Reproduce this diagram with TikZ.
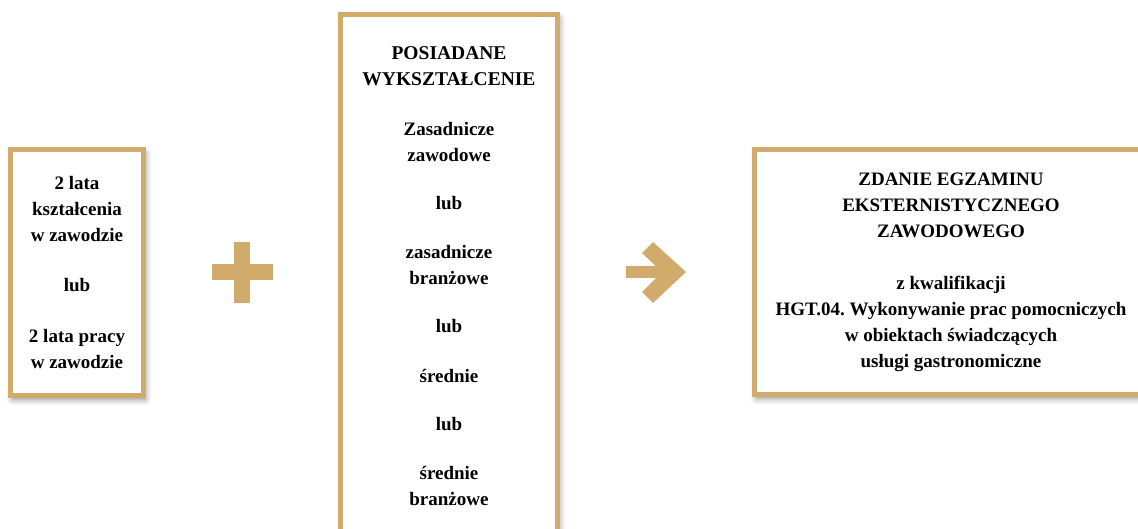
\documentclass[tikz,border=0pt]{standalone}
\usepackage{fontspec}
\setmainfont{Liberation Serif}
\usetikzlibrary{positioning, shadows.blur}
\definecolor{gold}{RGB}{208,171,107}
\frenchspacing

\begin{document}
\begin{tikzpicture}[x=1pt, y=-1pt,
        goldbox/.style={draw=gold, line width=5pt, fill=white, align=center, inner sep=0pt,
            font=\fontsize{19}{26}\selectfont\bfseries,
            blur shadow={shadow xshift=2pt, shadow yshift=-4pt, shadow blur radius=6pt, shadow opacity=45}},
        sign/.style={fill=gold, draw=none}
    ]
    \useasboundingbox (0,0) rectangle (1138,528);

    % --- left box: experience ---
    \node[goldbox, minimum width=133pt, minimum height=246pt] (exp) at (77,272.5)
        {2 lata\\kształcenia\\w zawodzie\\[24pt]lub\\[25pt]2 lata pracy\\w zawodzie};

    % --- plus sign ---
    \coordinate (plus) at (242,272);
    \fill[sign] ($(plus)+(-30.5,-8)$) rectangle ($(plus)+(30.5,8)$);
    \fill[sign] ($(plus)+(-8,-30.5)$) rectangle ($(plus)+(8,30.5)$);

    % --- middle box: education ---
    \node[goldbox, minimum width=217pt, minimum height=523pt] (edu) at (449,276)
        {\fontsize{19.5}{26}\selectfont POSIADANE\\\fontsize{19.5}{26}\selectfont WYKSZTAŁCENIE\\[24pt]Zasadnicze\\zawodowe\\[22pt]lub\\[23pt]zasadnicze\\branżowe\\[22pt]lub\\[24pt]średnie\\[22pt]lub\\[23pt]średnie\\branżowe};

    % --- arrow ---
    \coordinate (arrS) at (626,272);
    \coordinate (tip) at (686,272);
    \draw[gold, line width=12pt] (arrS) -- ($(tip)+(-22,0)$);
    \fill[sign] (tip) -- ++(-33,31) -- ++(-11,-11) -- ++(20,-20) -- ++(-20,-19) -- ++(11,-11) -- cycle;

    % --- right box: exam ---
    \node[goldbox, minimum width=393pt, minimum height=245pt] (exam) at (951,272)
        {ZDANIE EGZAMINU\\EKSTERNISTYCZNEGO\\ZAWODOWEGO\\[26pt]z kwalifikacji\\HGT.04. Wykonywanie prac pomocniczych\\w obiektach świadczących\\usługi gastronomiczne};
\end{tikzpicture}
\end{document}
